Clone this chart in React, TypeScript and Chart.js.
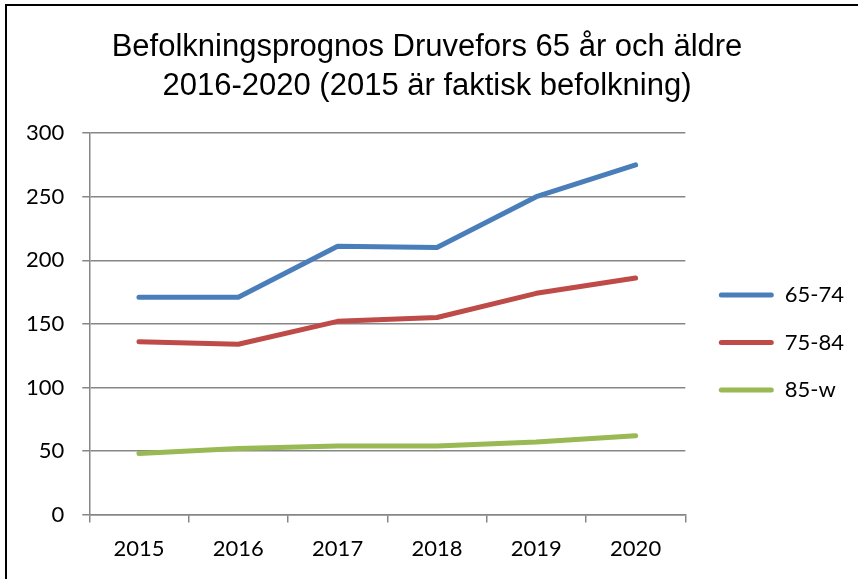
import React, { useEffect, useRef } from "react";
import { Chart, registerables } from "chart.js";

Chart.register(...registerables);

const titleLines = [
  "Befolkningsprognos Druvefors 65 år och äldre",
  "2016-2020 (2015 är faktisk befolkning)",
];
const years = ["2015", "2016", "2017", "2018", "2019", "2020"];
const seriesNames = ["65-74", "75-84", "85-w"];
const age65to74 = [171, 171, 211, 210, 250, 275];
const age75to84 = [136, 134, 152, 155, 174, 186];
const age85plus = [48, 52, 54, 54, 57, 62];
const colors = ["#4A7EBB", "#BE4B48", "#98B954"];
const yMin = 0;
const yMax = 300;
const yStep = 50;

const tickFont = { family: "Lato, 'Open Sans', sans-serif", size: 22 };

const legendShift = {
  id: "legendShift",
  afterLayout(chart: any, _args: any, opts: any) {
    const lg = chart.legend;
    if (!lg) return;
    const dx = opts.dx || 0;
    const dy = opts.dy || 0;
    lg.left += dx;
    lg.right += dx;
    lg.top += dy;
    lg.bottom += dy;
  },
};

export default function App() {
  const ref = useRef<HTMLCanvasElement | null>(null);

  useEffect(() => {
    document.body.style.margin = "0";
    const canvas = ref.current;
    if (!canvas) return;
    const values = [age65to74, age75to84, age85plus];
    const chart = new Chart(canvas, {
      type: "line",
      data: {
        labels: years,
        datasets: seriesNames.map((name, i) => ({
          label: name,
          data: values[i],
          borderColor: colors[i],
          backgroundColor: colors[i],
          borderWidth: 5,
          borderCapStyle: "round",
          borderJoinStyle: "round",
          pointRadius: 0,
          pointHoverRadius: 0,
          tension: 0,
          fill: false,
        })),
      },
      plugins: [legendShift],
      options: {
        responsive: false,
        animation: false,
        events: [],
        layout: { padding: { top: 28, left: 8, right: 12, bottom: 4 } },
        plugins: {
          legendShift: { dx: 8, dy: 41 },
          title: {
            display: true,
            text: titleLines,
            color: "#000",
            font: { family: "'Liberation Sans', Arial, sans-serif", size: 31, weight: "normal", lineHeight: 1.26 },
            padding: { top: 0, bottom: 27 },
          },
          legend: {
            display: true,
            position: "right",
            align: "center",
            labels: {
              color: "#000",
              font: tickFont,
              boxWidth: 55,
              boxHeight: 5,
              padding: 25.5,
              generateLabels: (c: any) =>
                c.data.datasets.map((ds: any, i: number) => ({
                  text: ds.label,
                  fillStyle: ds.borderColor,
                  strokeStyle: ds.borderColor,
                  lineWidth: 0,
                  hidden: false,
                  datasetIndex: i,
                  fontColor: "#000",
                  borderRadius: 2.5,
                })),
            },
          },
          tooltip: { enabled: false },
        },
        scales: {
          x: {
            type: "category",
            offset: true,
            grid: {
              offset: true,
              drawOnChartArea: false,
              drawTicks: true,
              tickLength: 8,
              color: "#868686",
              lineWidth: 1.5,
            },
            border: { color: "#868686", width: 1.5 },
            ticks: {
              color: "#000",
              font: tickFont,
              padding: 13,
              maxRotation: 0,
            },
          },
          y: {
            min: yMin,
            max: yMax,
            grid: {
              color: "#868686",
              lineWidth: 1.5,
              drawTicks: true,
              tickLength: 7,
            },
            border: { color: "#868686", width: 1.5 },
            ticks: {
              stepSize: yStep,
              color: "#000",
              font: tickFont,
              padding: 18,
            },
          },
        },
      },
    });
    return () => chart.destroy();
  }, []);

  return (
    <div style={{ position: "fixed", left: 0, top: 0, width: 858, height: 579, overflow: "hidden", background: "#fff" }}>
      <canvas ref={ref} width={858} height={579} style={{ display: "block", width: 858, height: 579 }} />
      <div
        style={{
          position: "absolute",
          left: 5,
          top: 4,
          width: 900,
          height: 650,
          border: "2px solid #000",
          pointerEvents: "none",
        }}
      />
    </div>
  );
}
